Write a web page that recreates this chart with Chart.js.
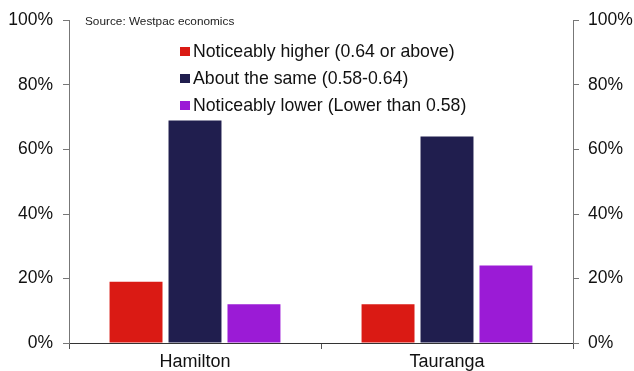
<!DOCTYPE html>
<html>
<head>
<meta charset="utf-8">
<script src="https://cdn.jsdelivr.net/npm/chart.js@4/dist/chart.umd.min.js"></script>
<style>
  html, body { margin: 0; padding: 0; background: #fff; }
  #wrap { width: 634px; height: 371px; position: relative; }
</style>
</head>
<body>
<div id="wrap"><canvas id="c" width="634" height="371"></canvas></div>
<script>
// Cities surveyed
const categories = ['Hamilton', 'Tauranga'];
// Share of respondents (%) by series
const seriesNames = [
  'Noticeably higher (0.64 or above)',
  'About the same (0.58-0.64)',
  'Noticeably lower (Lower than 0.58)'
];
const higher = [19, 12];
const same = [69, 64];
const lower = [12, 24];
const seriesColors = ['#DA1A14', '#201E4E', '#9B1BD6'];
const yTicks = [0, 20, 40, 60, 80, 100];
const sourceNote = 'Source: Westpac economics';

const FONT = '"Liberation Sans", Arial, sans-serif';

// Legend and source note drawn inside the plot area
const notesPlugin = {
  id: 'notes',
  afterDraw(chart) {
    const ctx = chart.ctx;
    ctx.save();
    ctx.font = '11.8px ' + FONT;
    ctx.fillStyle = '#222';
    ctx.textBaseline = 'middle';
    ctx.fillText(sourceNote, 85, 22);
    ctx.font = '17.7px ' + FONT;
    const rowsY = [51, 78, 105];
    chart.data.datasets.forEach((ds, i) => {
      ctx.fillStyle = ds.backgroundColor;
      ctx.fillRect(180, rowsY[i] - 4, 10, 9);
      ctx.fillStyle = '#111';
      ctx.fillText(ds.label, 193, rowsY[i] + 1);
    });
    ctx.restore();
  }
};

const series = [higher, same, lower];
const datasets = series.map((vals, i) => ({
  label: seriesNames[i],
  data: vals,
  backgroundColor: seriesColors[i],
  borderWidth: 0,
  barPercentage: 0.898,
  categoryPercentage: 0.702,
  yAxisID: 'y'
}));

const pct = v => v + '%';

new Chart(document.getElementById('c'), {
  type: 'bar',
  data: { labels: categories, datasets },
  options: {
    responsive: false,
    animation: false,
    layout: { padding: { top: 20, left: 0, right: 0, bottom: 0 } },
    plugins: { legend: { display: false }, tooltip: { enabled: false } },
    scales: {
      x: {
        offset: true,
        grid: { offset: true, drawOnChartArea: false, drawTicks: true, tickLength: 6, color: '#555' },
        border: { color: '#333', width: 1 },
        ticks: { color: '#111', font: { family: FONT, size: 18 }, padding: 2 },
        afterFit(s) { s.height = 28; }
      },
      y: {
        position: 'left',
        min: 0, max: 100,
        afterBuildTicks(s) { s.ticks = yTicks.map(v => ({ value: v })); },
        grid: { drawOnChartArea: false, tickLength: 6, color: '#777' },
        border: { color: '#777', width: 1 },
        ticks: { color: '#111', font: { family: FONT, size: 17.5 }, padding: 10, callback: pct },
        afterFit(s) { s.width = 69; }
      },
      y2: {
        position: 'right',
        min: 0, max: 100,
        afterBuildTicks(s) { s.ticks = yTicks.map(v => ({ value: v })); },
        grid: { drawOnChartArea: false, tickLength: 6, color: '#777' },
        border: { color: '#777', width: 1 },
        ticks: { color: '#111', font: { family: FONT, size: 17.5 }, padding: 9, callback: pct },
        afterFit(s) { s.width = 61; }
      }
    }
  },
  plugins: [notesPlugin]
});
</script>
</body>
</html>
